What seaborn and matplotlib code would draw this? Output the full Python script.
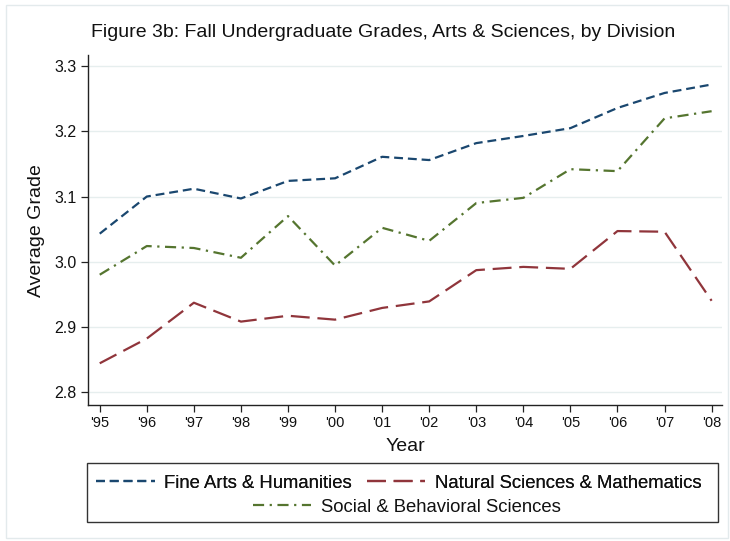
import matplotlib
matplotlib.use("Agg")
import matplotlib.pyplot as plt
import matplotlib.patches as mpatches
import pandas as pd
import seaborn as sns

# Data
years = list(range(1995, 2009))
year_labels = ["'95", "'96", "'97", "'98", "'99", "'00", "'01", "'02", "'03", "'04", "'05", "'06", "'07", "'08"]
fine_arts = [3.043, 3.100, 3.112, 3.097, 3.124, 3.128, 3.161, 3.156, 3.182, 3.193, 3.205, 3.236, 3.259, 3.272]
natural_sci = [2.844, 2.882, 2.937, 2.908, 2.917, 2.911, 2.929, 2.939, 2.987, 2.992, 2.989, 3.047, 3.046, 2.940]
social_sci = [2.980, 3.024, 3.021, 3.006, 3.070, 2.994, 3.052, 3.032, 3.090, 3.098, 3.142, 3.139, 3.220, 3.231]
series_names = ["Fine Arts & Humanities", "Natural Sciences & Mathematics", "Social & Behavioral Sciences"]

df = pd.DataFrame({
    "Year": years * 3,
    "Grade": fine_arts + natural_sci + social_sci,
    "Division": [series_names[0]] * 14 + [series_names[1]] * 14 + [series_names[2]] * 14,
})

sns.set_theme(style="white")
plt.rcParams["font.family"] = ["Liberation Sans", "DejaVu Sans"]

palette = {series_names[0]: "#1a476f", series_names[1]: "#90353b", series_names[2]: "#55752f"}
dashes = {series_names[0]: (4, 2.2), series_names[1]: (8.5, 3.5), series_names[2]: (5, 2.5, 1, 2.5)}

fig = plt.figure(figsize=(7.3, 5.41), dpi=100)

# faint graph-region outline
outline = mpatches.Rectangle((6 / 730, 3 / 541), 722 / 730, 533 / 541, transform=fig.transFigure,
                             fill=False, edgecolor="#e3eaec", linewidth=1.0)
fig.patches.append(outline)

ax = fig.add_axes([0.1205, 0.2514, 0.8685, 0.6466])

sns.lineplot(data=df, x="Year", y="Grade", hue="Division", style="Division",
             palette=palette, dashes=dashes, linewidth=1.6, ax=ax, legend=False)

ax.set_xlim(1994.75, 2008.22)
ax.set_ylim(2.78, 3.317)
ax.set_xticks(years)
ax.set_xticklabels(year_labels)
ax.set_yticks([2.8, 2.9, 3.0, 3.1, 3.2, 3.3])
ax.set_yticklabels(["2.8", "2.9", "3.0", "3.1", "3.2", "3.3"])
ax.yaxis.grid(True, color="#e6eeee", linewidth=1)
ax.set_axisbelow(True)
for side in ["top", "right"]:
    ax.spines[side].set_visible(False)
for side in ["left", "bottom"]:
    ax.spines[side].set_color("#222222")
    ax.spines[side].set_linewidth(1.0)
ax.tick_params(axis="both", direction="out", length=5, width=0.9, color="#222222",
               labelcolor="#111111", bottom=True, left=True, pad=3)
ax.tick_params(axis="y", labelsize=11.5)
ax.tick_params(axis="x", labelsize=10.5)

ax.set_xlabel("Year", fontsize=14, color="#111111", labelpad=6)
ax.set_ylabel("Average Grade", fontsize=14, color="#111111", labelpad=7)

fig.text(0.525, 0.94, "Figure 3b: Fall Undergraduate Grades, Arts & Sciences, by Division",
         ha="center", va="center", fontsize=14, color="#111111")

# legend: framed box with two rows, second row centered
handles = [plt.Line2D([], [], color=palette[n], linewidth=1.6, dashes=dashes[n]) for n in series_names]
frame = mpatches.Rectangle((0.119, 0.035), 0.865, 0.109, transform=fig.transFigure,
                           fill=False, edgecolor="#333333", linewidth=1.0)
fig.patches.append(frame)
leg_kw = dict(frameon=False, fontsize=13.3, handlelength=3.15, handletextpad=0.53,
              columnspacing=0.8, borderpad=0, borderaxespad=0)
leg1 = fig.legend(handles[:2], series_names[:2], ncol=2, loc="center",
                  bbox_to_anchor=(399 / 730, 1 - 483 / 541), **leg_kw)
for t in leg1.get_texts():
    t.set_color("#111111")
leg2 = fig.legend(handles[2:], series_names[2:], loc="center",
                  bbox_to_anchor=(407 / 730, 1 - 507 / 541), **leg_kw)
for t in leg2.get_texts():
    t.set_color("#111111")
fig.add_artist(leg1)

fig.savefig("out.png", dpi=100, facecolor="white")
